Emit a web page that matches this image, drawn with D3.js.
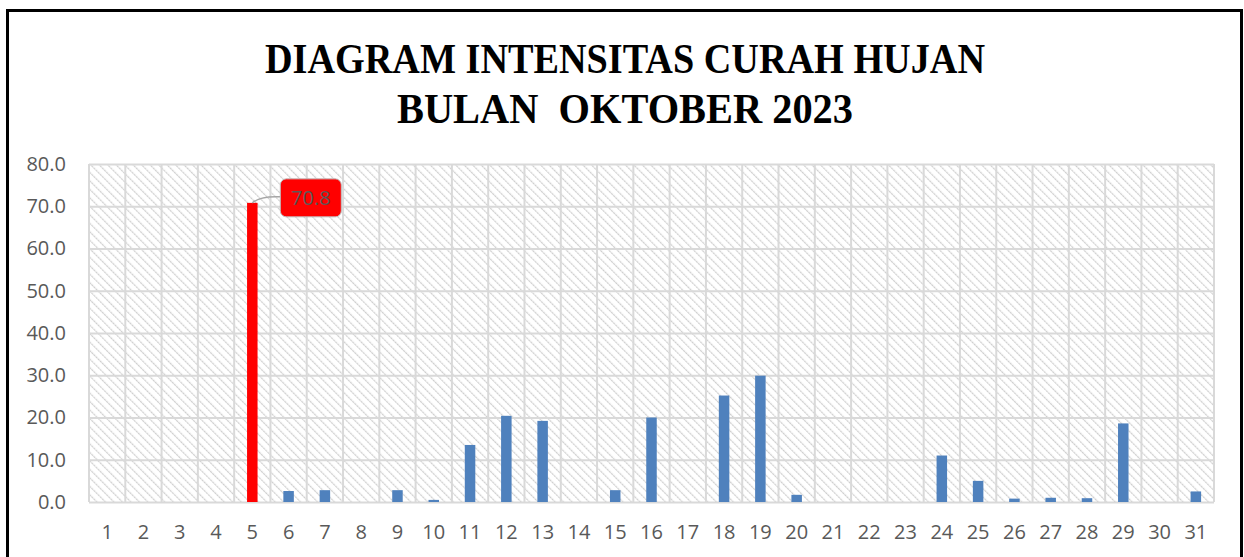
<!DOCTYPE html>
<html lang="id">
<head>
<meta charset="UTF-8">
<title>Diagram Intensitas Curah Hujan Oktober 2023</title>
<script src="https://d3js.org/d3.v7.min.js"></script>
<style>
  body { margin: 0; background: #fff; }
  .tick-label { font-family: "Open Sans", "Liberation Sans", sans-serif; font-size: 20px; fill: #595959; }
  .title { font-family: "Liberation Serif", serif; font-weight: bold; fill: #000; white-space: pre; }
</style>
</head>
<body>
<svg id="chart" width="1244" height="557"></svg>
<script>
// days of October 2023
const days = d3.range(1, 32).map(String);
// rainfall (mm)
const rainfall = [0, 0, 0, 0, 70.8, 2.6, 2.8, 0, 2.8, 0.5, 13.5, 20.4, 19.2, 0, 2.8, 20.0,
                  0, 25.2, 29.9, 1.7, 0, 0, 0, 11.0, 5.0, 0.8, 1.0, 0.9, 18.6, 0, 2.5];
const yTicks = [0, 10, 20, 30, 40, 50, 60, 70, 80];
const titleLines = ["DIAGRAM INTENSITAS CURAH HUJAN", "BULAN  OKTOBER 2023"];
const titleWidths = [720, 456];
const maxValue = d3.max(rainfall);

const svg = d3.select("#chart");
const margin = { top: 164, right: 30, bottom: 55, left: 89 };
const chartWidth = 1214 - margin.left;
const chartHeight = 502 - margin.top;

// hatch pattern for plot background
const defs = svg.append("defs");
const pat = defs.append("pattern")
    .attr("id", "hatch")
    .attr("patternUnits", "userSpaceOnUse")
    .attr("width", 6).attr("height", 6)
    .attr("patternTransform", "rotate(-45)");
pat.append("rect").attr("width", 6).attr("height", 6).attr("fill", "#fff");
pat.append("line")
    .attr("x1", 0).attr("y1", 0).attr("x2", 0).attr("y2", 6)
    .attr("stroke", "#cfcfcf").attr("stroke-width", 2.4)
    .attr("stroke-dasharray", "2.5,0.5");

// outer frame
svg.append("rect")
    .attr("x", 7.5).attr("y", 10.5)
    .attr("width", 1234).attr("height", 560)
    .attr("fill", "#fff").attr("stroke", "#000").attr("stroke-width", 3);

// title
svg.selectAll(".title")
    .data(titleLines)
    .enter()
    .append("text")
    .attr("class", "title")
    .attr("x", 625)
    .attr("y", (d, i) => 73 + i * 50)
    .attr("text-anchor", "middle")
    .attr("font-size", 43)
    .attr("textLength", (d, i) => titleWidths[i])
    .attr("lengthAdjust", "spacingAndGlyphs")
    .text(d => d);

const chart = svg.append("g")
    .attr("transform", `translate(${margin.left}, ${margin.top})`);

const xScale = d3.scaleBand()
    .domain(days)
    .range([0, chartWidth])
    .paddingInner(0)
    .paddingOuter(0);

const yScale = d3.scaleLinear()
    .domain([0, 80])
    .range([chartHeight, 0]);

// plot background
chart.append("rect")
    .attr("width", chartWidth).attr("height", chartHeight)
    .attr("fill", "url(#hatch)");

// horizontal gridlines
chart.append("g")
    .call(d3.axisLeft(yScale).tickValues(yTicks).tickSize(-chartWidth).tickFormat(""))
    .call(g => g.select(".domain").remove())
    .call(g => g.selectAll("line").attr("stroke", "#d9d9d9").attr("stroke-width", 2));

// vertical gridlines at category boundaries
chart.append("g")
    .selectAll("line")
    .data(days.concat(["end"]))
    .enter()
    .append("line")
    .attr("x1", (d, i) => i * xScale.step())
    .attr("x2", (d, i) => i * xScale.step())
    .attr("y1", 0).attr("y2", chartHeight)
    .attr("stroke", "#d9d9d9").attr("stroke-width", 2);

// bars
const barWidth = 10.5;
chart.selectAll(".bar")
    .data(rainfall)
    .enter()
    .append("rect")
    .attr("class", "bar")
    .attr("x", (d, i) => xScale(days[i]) + xScale.bandwidth() / 2 - barWidth / 2)
    .attr("y", d => yScale(d))
    .attr("width", barWidth)
    .attr("height", d => chartHeight - yScale(d))
    .attr("fill", d => d === maxValue ? "#ff0000" : "#4f81bd");

// y axis labels
chart.append("g")
    .call(d3.axisLeft(yScale).tickValues(yTicks).tickSize(0).tickPadding(23).tickFormat(d3.format(".1f")))
    .call(g => g.select(".domain").remove())
    .selectAll("text")
    .attr("class", "tick-label");

// x axis labels
chart.append("g")
    .attr("transform", `translate(0, ${chartHeight})`)
    .call(d3.axisBottom(xScale).tickSize(0).tickPadding(23))
    .call(g => g.select(".domain").remove())
    .selectAll("text")
    .attr("class", "tick-label");

// data label for the maximum
const maxIdx = rainfall.indexOf(maxValue);
const bx = xScale(days[maxIdx]) + xScale.bandwidth() / 2;
const by = yScale(maxValue);
const lx = bx + 28, ly = by - 24;
chart.append("path")
    .attr("d", `M${bx},${by} Q${bx + 8},${by - 7} ${lx},${by - 6}`)
    .attr("fill", "none").attr("stroke", "#a6a6a6").attr("stroke-width", 1.5);
chart.append("rect")
    .attr("x", lx).attr("y", ly)
    .attr("width", 61).attr("height", 38)
    .attr("rx", 6)
    .attr("fill", "#ff0000")
    .attr("stroke", "#bfbfbf").attr("stroke-width", 1);
chart.append("text")
    .attr("class", "tick-label")
    .attr("x", lx + 30.5).attr("y", ly + 26)
    .attr("text-anchor", "middle")
    .text(d3.format(".1f")(maxValue));
</script>
</body>
</html>
